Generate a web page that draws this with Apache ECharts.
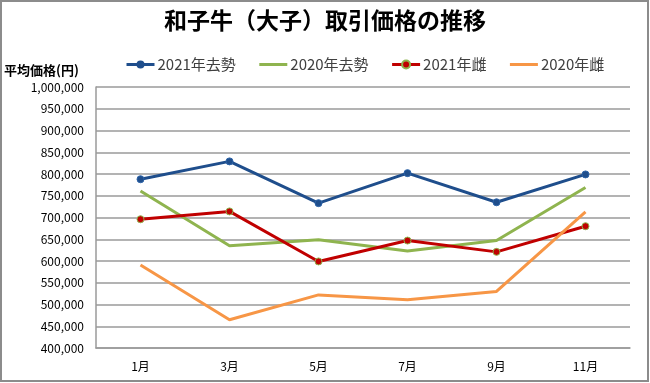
<!DOCTYPE html>
<html><head><meta charset="utf-8">
<script src="https://cdn.jsdelivr.net/npm/echarts@6/dist/echarts.min.js"></script>
<style>html,body{margin:0;padding:0;background:#fff}#c{width:650px;height:383px}</style>
</head><body><div id="c"></div>
<script>
const categories = ['1月','3月','5月','7月','9月','11月'];
const steer2021 = [788000, 829000, 733000, 802000, 735000, 799000];
const steer2020 = [761000, 635000, 649000, 623000, 647000, 769000];
const heifer2021 = [696000, 714000, 599000, 647000, 621000, 680000];
const heifer2020 = [591000, 465000, 522000, 511000, 530000, 713000];
const seriesNames = ['2021年去勢','2020年去勢','2021年雌','2020年雌'];
const font = '"Noto Sans CJK JP", sans-serif';

const chart = echarts.init(document.getElementById('c'));
chart.setOption({
  animation: false,
  backgroundColor: '#fff',
  textStyle: {fontFamily: font},
  graphic: [{type:'rect', shape:{x:1,y:1,width:647,height:380}, style:{fill:'none', stroke:'#8c8c8c', lineWidth:2}, silent:true}],
  title: {text:'和子牛（大子）取引価格の推移', left:'center', top:4,
    textStyle:{fontFamily:font, fontSize:23, fontWeight:'bold', color:'#000'}},
  legend: {top:52, left:120, itemWidth:28, itemHeight:10, itemGap:22,
    lineStyle:{width:3},
    textStyle:{fontFamily:font, fontSize:15, color:'#404040', padding:[0,0,0,-2]},
    data: seriesNames},
  grid: {left:96, right:20, top:87, bottom:35},
  xAxis: {type:'category', data:categories, boundaryGap:true,
    axisLine:{lineStyle:{color:'#9a9a9a', width:1.5}}, axisTick:{show:false},
    axisLabel:{fontFamily:font, fontSize:12, color:'#000', margin:12}},
  yAxis: {type:'value', min:400000, max:1000000, interval:50000,
    name:'平均価格(円)', nameLocation:'end', nameGap:10,
    nameTextStyle:{fontFamily:font, fontSize:13, fontWeight:'bold', color:'#000', align:'left', padding:[0,0,0,-92]},
    axisLine:{show:true, lineStyle:{color:'#9a9a9a', width:1.5}},
    axisLabel:{fontFamily:font, fontSize:12, color:'#000', margin:12,
      formatter: v => v.toLocaleString('en-US')},
    splitLine:{lineStyle:{color:'#9a9a9a', width:1.5}}},
  series: [
    {name:seriesNames[0], type:'line', data:steer2021, symbol:'circle', symbolSize:7,
      lineStyle:{color:'#1f4e8c', width:3}, itemStyle:{color:'#1f4e8c', borderColor:'#2e64a8'}},
    {name:seriesNames[1], type:'line', data:steer2020, symbol:'none',
      lineStyle:{color:'#8fb44f', width:3}, itemStyle:{color:'#8fb44f', opacity:0}},
    {name:seriesNames[2], type:'line', data:heifer2021, symbol:'circle', symbolSize:7,
      lineStyle:{color:'#c00000', width:3}, itemStyle:{color:'#c00000', borderColor:'#8fb44f', borderWidth:1}},
    {name:seriesNames[3], type:'line', data:heifer2020, symbol:'none',
      lineStyle:{color:'#f79646', width:3}, itemStyle:{color:'#f79646', opacity:0}}
  ]
});
</script></body></html>
